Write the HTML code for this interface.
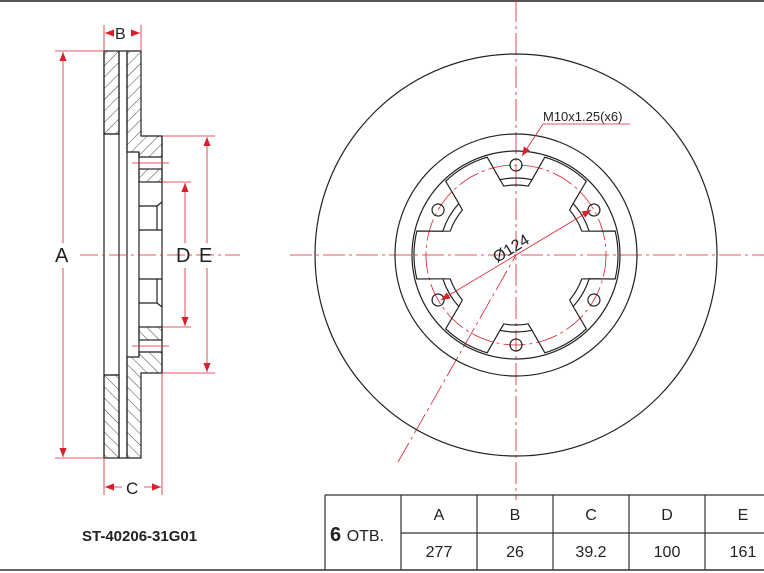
<!DOCTYPE html>
<html><head><meta charset="utf-8"><style>
html,body{margin:0;padding:0;background:#fff}
svg{display:block}
text{font-family:"Liberation Sans",sans-serif}
</style></head><body>
<svg width="764" height="573" viewBox="0 0 764 573" xmlns="http://www.w3.org/2000/svg">
<defs>
<pattern id="h" patternUnits="userSpaceOnUse" width="8" height="8" patternTransform="rotate(45)">
<line x1="0" y1="0" x2="0" y2="8" stroke="#333" stroke-width="0.9"/>
</pattern>
<marker id="ar" viewBox="0 0 10 10" refX="10" refY="5" markerWidth="9" markerHeight="9" orient="auto-start-reverse" markerUnits="userSpaceOnUse">
<path d="M0,1 L10,5 L0,9 z" fill="#d8202c"/>
</marker>
</defs>
<rect x="0" y="0" width="764" height="2" fill="#555"/>

<g id="half" stroke="#222" stroke-width="1.2" fill="none">
<rect x="104" y="51" width="15" height="83" fill="url(#h)"/>
<polygon points="127,51 141,51 141,136 162,136 162,157 139,157 139,152 127,152" fill="url(#h)"/>
<rect x="139" y="169" width="23" height="13" fill="url(#h)"/>
<line x1="104" y1="134" x2="119" y2="134"/>
<line x1="139" y1="206" x2="157" y2="206"/>
<line x1="157" y1="206" x2="162" y2="202"/>
<line x1="157" y1="206" x2="157" y2="230"/>
<line x1="139" y1="230" x2="162" y2="230"/>
<line x1="119" y1="51" x2="127" y2="51"/>
</g>
<use href="#half" transform="matrix(1 0 0 -1 0 509)"/>
<g stroke="#222" stroke-width="1.2">
<line x1="104" y1="51" x2="104" y2="458"/>
<line x1="119" y1="51" x2="119" y2="458"/>
<line x1="127" y1="51" x2="127" y2="458"/>
<line x1="139" y1="152" x2="139" y2="357"/>
<line x1="162" y1="136" x2="162" y2="373"/>
</g>
<g stroke="#d8202c" stroke-width="0.8" fill="none">
<line x1="132" y1="163" x2="169" y2="163"/>
<line x1="132" y1="346" x2="169" y2="346"/>
<line x1="55" y1="51" x2="104" y2="51"/>
<line x1="55" y1="458" x2="104" y2="458"/>
<line x1="104" y1="25" x2="104" y2="51"/>
<line x1="141" y1="25" x2="141" y2="51"/>
<line x1="104" y1="458" x2="104" y2="495"/>
<line x1="162" y1="373" x2="162" y2="495"/>
<line x1="162" y1="136" x2="215" y2="136"/>
<line x1="162" y1="373" x2="215" y2="373"/>
<line x1="162" y1="182" x2="191" y2="182"/>
<line x1="162" y1="327" x2="191" y2="327"/>
<line x1="63" y1="52" x2="63" y2="243" marker-start="url(#ar)"/>
<line x1="63" y1="268" x2="63" y2="457" marker-end="url(#ar)"/>
<line x1="185" y1="183" x2="185" y2="243" marker-start="url(#ar)"/>
<line x1="185" y1="268" x2="185" y2="326" marker-end="url(#ar)"/>
<line x1="207" y1="137" x2="207" y2="243" marker-start="url(#ar)"/>
<line x1="207" y1="268" x2="207" y2="372" marker-end="url(#ar)"/>
<line x1="105" y1="33" x2="113" y2="33" marker-start="url(#ar)"/>
<line x1="131" y1="33" x2="140" y2="33" marker-end="url(#ar)"/>
<line x1="105" y1="487" x2="122" y2="487" marker-start="url(#ar)"/>
<line x1="144" y1="487" x2="161" y2="487" marker-end="url(#ar)"/>
<line x1="80" y1="255" x2="240" y2="255" stroke-dasharray="18,4,3,4"/>
</g>
<g font-size="20" fill="#222">
<text x="55" y="262">A</text>
<text x="176" y="262">D</text>
<text x="199" y="262">E</text>
</g>
<text x="115" y="39" font-size="16" fill="#222">B</text>
<text x="126" y="494" font-size="17" fill="#222">C</text>

<g stroke="#d8202c" stroke-width="0.8" fill="none" stroke-dasharray="22,4,3,4">
<line x1="290" y1="255" x2="764" y2="255"/>
<line x1="516" y1="0" x2="516" y2="500"/>
<line x1="398" y1="462" x2="516" y2="255"/>
<circle cx="516" cy="255" r="90"/>
</g>
<g stroke="#222" stroke-width="1.2" fill="none">
<circle cx="516" cy="255" r="201"/>
<circle cx="516" cy="255" r="121"/>
<circle cx="516" cy="255" r="104"/>
<g transform="translate(516 255)">
<g id="seg">
<path d="M73.23,-23.79 L99.14,-23.98 A102,102 0 0 1 99.14,23.98 L73.23,23.79 A77,77 0 0 1 57.22,51.52"/>
<path d="M73.23,23.79 L65.78,23.94 A70,70 0 0 1 53.62,45.0 L57.22,51.52"/>
<circle cx="77.94" cy="45" r="6"/>
</g>
<use href="#seg" transform="rotate(60)"/>
<use href="#seg" transform="rotate(120)"/>
<use href="#seg" transform="rotate(180)"/>
<use href="#seg" transform="rotate(240)"/>
<use href="#seg" transform="rotate(300)"/>
</g>
</g>
<g stroke="#d8202c" stroke-width="0.8" fill="none">
<line x1="441" y1="300" x2="591" y2="210" marker-start="url(#ar)" marker-end="url(#ar)"/>
<line x1="543" y1="124" x2="630" y2="124"/>
<line x1="543" y1="124" x2="522" y2="156" marker-end="url(#ar)"/>
</g>
<text x="543" y="121" font-size="13" fill="#222">M10x1.25(x6)</text>
<text x="0" y="0" font-size="16" fill="#222" transform="translate(497 263) rotate(-31)">Ø124</text>

<g stroke="#333" stroke-width="1.2" fill="none">
<line x1="325" y1="495" x2="764" y2="495"/>
<line x1="401" y1="533" x2="764" y2="533"/>
<line x1="0" y1="570" x2="764" y2="570" stroke-width="1.5"/>
<line x1="325" y1="495" x2="325" y2="570"/>
<line x1="401" y1="495" x2="401" y2="570"/>
<line x1="477" y1="495" x2="477" y2="570"/>
<line x1="553" y1="495" x2="553" y2="570"/>
<line x1="629" y1="495" x2="629" y2="570"/>
<line x1="705" y1="495" x2="705" y2="570"/>
</g>
<g font-size="16" fill="#222" text-anchor="middle">
<text x="439" y="520">A</text><text x="515" y="520">B</text><text x="591" y="520">C</text><text x="667" y="520">D</text><text x="743" y="520">E</text>
<text x="439" y="557">277</text><text x="515" y="557">26</text><text x="591" y="557">39.2</text><text x="667" y="557">100</text><text x="743" y="557">161</text>
</g>
<text x="330" y="541" font-size="20" font-weight="bold" fill="#222">6 <tspan font-size="16" font-weight="normal">ОТВ.</tspan></text>
<text x="82" y="541" font-size="15" font-weight="bold" fill="#222">ST-40206-31G01</text>
</svg>
</body></html>
